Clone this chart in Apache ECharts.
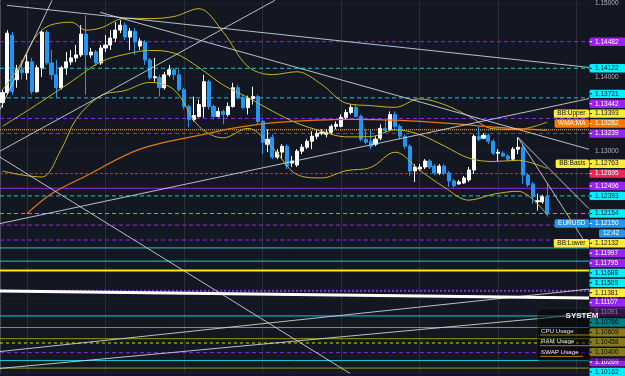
<!DOCTYPE html>
<html>
<head>
<meta charset="utf-8">
<title>EURUSD</title>
<script src="https://cdn.jsdelivr.net/npm/echarts@6.0.0/dist/echarts.min.js"></script>
<style>
  html, body { margin: 0; padding: 0; background: #131722; }
  #main { width: 625px; height: 376px; }
</style>
</head>
<body>
<div id="main"></div>
<script>
// price bars, oldest first: [open, close, low, high]
const candles = [
  [1.13658, 1.13792, 1.13590, 1.13832], [1.13792, 1.14598, 1.13765, 1.14639], [1.14572, 1.13805, 1.13765, 1.14612],
  [1.13967, 1.14101, 1.13859, 1.14168], [1.14101, 1.14061, 1.13967, 1.14235], [1.14061, 1.14209, 1.13967, 1.14303],
  [1.14209, 1.13805, 1.13765, 1.14262], [1.13805, 1.14128, 1.13792, 1.14168], [1.14128, 1.14612, 1.14007, 1.14639],
  [1.14612, 1.14195, 1.14168, 1.14639], [1.14195, 1.14034, 1.13967, 1.14370], [1.14034, 1.13859, 1.13725, 1.14235],
  [1.13859, 1.14128, 1.13832, 1.14155], [1.14128, 1.14209, 1.14034, 1.14343], [1.14209, 1.14262, 1.14168, 1.14370],
  [1.14262, 1.14303, 1.14209, 1.14437], [1.14303, 1.14585, 1.14276, 1.14706], [1.14585, 1.14303, 1.13765, 1.14840],
  [1.14303, 1.14343, 1.14262, 1.14397], [1.14343, 1.14195, 1.14155, 1.14370], [1.14195, 1.14397, 1.14168, 1.14437],
  [1.14397, 1.14437, 1.14343, 1.14572], [1.14437, 1.14531, 1.14370, 1.14639], [1.14531, 1.14639, 1.14477, 1.14746],
  [1.14639, 1.14706, 1.14598, 1.14773], [1.14706, 1.14545, 1.14504, 1.14746], [1.14545, 1.14625, 1.14370, 1.14666],
  [1.14625, 1.14477, 1.14303, 1.14666], [1.14423, 1.14491, 1.14370, 1.14531], [1.14477, 1.14235, 1.14168, 1.14504],
  [1.14235, 1.13994, 1.13967, 1.14262], [1.13994, 1.14007, 1.13940, 1.14262], [1.13994, 1.13859, 1.13738, 1.14034],
  [1.13859, 1.14034, 1.13832, 1.14074], [1.14034, 1.14101, 1.14007, 1.14168], [1.14101, 1.14034, 1.13967, 1.14128],
  [1.14034, 1.13832, 1.13805, 1.14101], [1.13832, 1.13604, 1.13564, 1.13859], [1.13604, 1.13429, 1.13322, 1.13631],
  [1.13429, 1.13483, 1.13402, 1.13738], [1.13469, 1.13631, 1.13456, 1.13698], [1.13604, 1.13940, 1.13456, 1.14034],
  [1.13940, 1.13604, 1.13564, 1.13967], [1.13604, 1.13469, 1.13429, 1.13631], [1.13469, 1.13537, 1.13456, 1.13590],
  [1.13537, 1.13496, 1.13362, 1.13564], [1.13496, 1.13604, 1.13469, 1.13658], [1.13604, 1.13859, 1.13590, 1.13926],
  [1.13859, 1.13725, 1.13698, 1.13900], [1.13725, 1.13590, 1.13564, 1.13765], [1.13590, 1.13711, 1.13496, 1.13752],
  [1.13711, 1.13738, 1.13631, 1.13873], [1.13738, 1.13402, 1.13362, 1.13765], [1.13402, 1.13120, 1.12959, 1.13429],
  [1.13093, 1.13160, 1.12986, 1.13295], [1.13187, 1.12918, 1.12891, 1.13227], [1.12918, 1.12986, 1.12891, 1.13026],
  [1.12986, 1.13066, 1.12891, 1.13093], [1.13066, 1.12797, 1.12757, 1.13093], [1.12838, 1.12865, 1.12784, 1.12932],
  [1.12811, 1.12999, 1.12784, 1.13026], [1.12999, 1.13053, 1.12959, 1.13093], [1.13053, 1.13133, 1.13026, 1.13160],
  [1.13133, 1.13201, 1.13026, 1.13268], [1.13201, 1.13241, 1.13160, 1.13295], [1.13241, 1.13254, 1.13214, 1.13295],
  [1.13227, 1.13254, 1.13187, 1.13295], [1.13254, 1.13335, 1.13227, 1.13362], [1.13335, 1.13362, 1.13295, 1.13402],
  [1.13335, 1.13456, 1.13322, 1.13496], [1.13456, 1.13523, 1.13429, 1.13564], [1.13523, 1.13590, 1.13496, 1.13631],
  [1.13590, 1.13469, 1.13456, 1.13631], [1.13469, 1.13160, 1.13133, 1.13496], [1.13160, 1.13120, 1.13093, 1.13295],
  [1.13133, 1.13066, 1.13026, 1.13295], [1.13093, 1.13160, 1.13066, 1.13201], [1.13174, 1.13308, 1.13147, 1.13362],
  [1.13308, 1.13281, 1.13254, 1.13429], [1.13295, 1.13496, 1.13268, 1.13537], [1.13496, 1.13335, 1.13295, 1.13537],
  [1.13335, 1.13201, 1.13160, 1.13362], [1.13201, 1.13066, 1.13026, 1.13227], [1.13066, 1.12730, 1.12663, 1.13093],
  [1.12730, 1.12784, 1.12582, 1.12824], [1.12757, 1.12784, 1.12730, 1.12824], [1.12784, 1.12865, 1.12757, 1.12891],
  [1.12865, 1.12784, 1.12757, 1.12891], [1.12797, 1.12703, 1.12676, 1.12824], [1.12703, 1.12797, 1.12676, 1.12824],
  [1.12797, 1.12703, 1.12676, 1.12824], [1.12703, 1.12596, 1.12515, 1.12730], [1.12596, 1.12529, 1.12502, 1.12623],
  [1.12555, 1.12582, 1.12542, 1.12609], [1.12569, 1.12636, 1.12555, 1.12663], [1.12609, 1.12744, 1.12582, 1.12784],
  [1.12744, 1.13201, 1.12690, 1.13227], [1.13201, 1.13160, 1.13133, 1.13335], [1.13174, 1.13214, 1.13160, 1.13241],
  [1.13214, 1.13133, 1.13093, 1.13241], [1.13133, 1.12972, 1.12945, 1.13160], [1.12972, 1.12986, 1.12865, 1.13026],
  [1.12972, 1.12932, 1.12918, 1.12999], [1.12932, 1.12891, 1.12865, 1.12959], [1.12891, 1.13026, 1.12865, 1.13053],
  [1.13026, 1.13053, 1.12959, 1.13187], [1.13053, 1.12676, 1.12555, 1.13080], [1.12676, 1.12542, 1.12515, 1.12703],
  [1.12555, 1.12381, 1.12287, 1.12582], [1.12313, 1.12327, 1.12193, 1.12421], [1.12313, 1.12381, 1.12287, 1.12408],
  [1.12381, 1.12150, 1.12112, 1.12555]
];

// indicator lines: [bar index, price]
const bbUpper = [
  [0, 1.13832], [3, 1.14101], [8, 1.14639], [14, 1.14746], [17, 1.14639], [20, 1.14668], [25, 1.14800],
  [30, 1.14796], [35, 1.14824], [40, 1.14930], [45, 1.14609], [50, 1.14147], [55, 1.14036], [60, 1.14075],
  [65, 1.13905], [70, 1.13649], [75, 1.13616], [80, 1.13593], [85, 1.13707], [90, 1.13630], [95, 1.13475],
  [100, 1.13302], [105, 1.13294], [111, 1.13393]
];
const bbBasis = [
  [0, 1.13335], [7, 1.13630], [14, 1.13940], [20, 1.14208], [25, 1.14311], [30, 1.14363], [35, 1.14327],
  [40, 1.14134], [45, 1.13894], [50, 1.13727], [55, 1.13542], [60, 1.13379], [65, 1.13271], [70, 1.13192],
  [75, 1.13196], [80, 1.13289], [85, 1.13224], [90, 1.13070], [95, 1.12905], [100, 1.12859], [105, 1.12875],
  [111, 1.12763]
];
const bbLower = [
  [0, 1.12730], [4, 1.12676], [8, 1.12649], [12, 1.13026], [15, 1.13429], [20, 1.13749], [25, 1.13821],
  [30, 1.13930], [35, 1.13829], [40, 1.13337], [45, 1.13179], [50, 1.13308], [55, 1.13047], [60, 1.12683],
  [65, 1.12636], [70, 1.12735], [75, 1.12777], [80, 1.12985], [85, 1.12741], [90, 1.12511], [95, 1.12335],
  [100, 1.12415], [105, 1.12456], [111, 1.12132]
];
const wma = [
  [5, 1.12152], [10, 1.12421], [17, 1.12663], [28, 1.13026], [41, 1.13227], [48, 1.13321], [56, 1.13389],
  [71, 1.13429], [81, 1.13415], [91, 1.13375], [101, 1.13321], [111, 1.13282]
];

// horizontal levels across the whole chart
const levelPrices = [1.14482, 1.14122, 1.13721, 1.13442, 1.13290, 1.13239, 1.12695, 1.12496, 1.12393, 1.12154,
  1.11997, 1.11795, 1.11688, 1.11509, 1.11381, 1.11107, 1.10766, 1.10609, 1.10458, 1.10400, 1.10269, 1.10162, 1.10060];
const levelKinds = ['purpleDash', 'cyanDash', 'cyanDash', 'purpleDash', 'orangeDot', 'purpleDash', 'redDash', 'purple',
  'cyanDash', 'cyanDash', 'purpleDash', 'purpleDash', 'cyan', 'cyan', 'yellow', 'purpleDot', 'cyan', 'olive', 'olive',
  'yellowDash', 'purpleDash', 'cyan', 'olive'];
const gridPrices = [1.15, 1.14, 1.13, 1.12, 1.11, 1.10];

// drawn trend lines, each [[bar, price], [bar, price]]
const trendLines = [
  [[0, 1.13563], [10.6, 1.15042]],
  [[0, 1.12999], [56.0, 1.15042]],
  [[1.4, 1.14975], [120, 1.14134]],
  [[20.4, 1.14880], [120, 1.13024]],
  [[0, 1.12018], [120, 1.13711]],
  [[0, 1.10284], [120, 1.11130]],
  [[0, 1.10055], [120, 1.10794]],
  [[0, 1.12918], [71.3, 1.09988]],
  [[105.5, 1.13187], [120, 1.12219]],
  [[105.5, 1.13187], [120, 1.11682]]
];
const thickLine = [[0, 1.11104], [120, 1.11009]];

// price axis tags
const tagValues = [1.14482, 1.14122, 1.13721, 1.13442, 1.13393, 1.13282, 1.13239, 1.12763, 1.12695, 1.12496,
  1.12393, 1.12154, 1.12150, 1.12132, 1.11997, 1.11795, 1.11688, 1.11509, 1.11381, 1.11107, 1.11091, 1.10766,
  1.10609, 1.10458, 1.10400, 1.10269, 1.10162];
const tagNames = ['', '', '', '', 'BB:Upper', 'WMA:MA', '', 'BB:Basis', '', '', '', '', 'EURUSD', 'BB:Lower',
  '', '', '', '', '', '', '', '', '', '', '', '', ''];
const tagKinds = ['purple', 'cyan', 'cyan', 'purple', 'yellow', 'orange', 'purple', 'yellow', 'red', 'purple',
  'cyan', 'cyan', 'blue', 'yellow', 'purple', 'purple', 'cyan', 'cyan', 'yellow', 'purple', 'dark', 'cyan',
  'yellow', 'yellow', 'yellow', 'purple', 'cyan'];
const countdown = '12:42';
const axisTicks = [1.15, 1.14, 1.13, 1.12, 1.11, 1.10];
const panelRows = ['CPU Usage', 'RAM Usage', 'SWAP Usage'];

const LINE_STYLE = {
  grid: { color: '#1d212c', type: 'solid', width: 1 },
  purpleDash: { color: '#8a2be2', type: [4, 3], width: 1 },
  purpleDot: { color: '#8a2be2', type: [2, 2], width: 2 },
  purple: { color: '#8a2be2', type: 'solid', width: 1 },
  cyanDash: { color: '#1ec8d6', type: [4, 3], width: 1 },
  cyan: { color: '#1ec8d6', type: 'solid', width: 1 },
  orangeDot: { color: '#e07a10', type: [1, 1], width: 1.5 },
  redDash: { color: '#e0245a', type: [3, 2], width: 1 },
  yellow: { color: '#ffee00', type: 'solid', width: 2 },
  yellowDash: { color: '#e8d800', type: [3, 3], width: 1 },
  olive: { color: '#9e9a14', type: 'solid', width: 1 }
};
const TAG_STYLE = {
  purple: ['#9b22ef', '#ffffff'],
  cyan: ['#00f0ff', '#10141e'],
  yellow: ['#ffeb3b', '#10141e'],
  orange: ['#ff7a00', '#ffffff'],
  red: ['#f02459', '#ffffff'],
  blue: ['#2196f3', '#ffffff'],
  dark: ['#5e2a8c', '#ffffff']
};

const SLOTS = 120;
const FONT = 'Liberation Sans';
const TAG_FS = 6.5;
const TAG_H = 9.9;
const AXIS_X = 589;

const toBar = pts => pts.map(([i, p]) => [i + 0.5, p]);

const chart = echarts.init(document.getElementById('main'));

const lineSeries = (data, lineStyle, smooth, z) => ({
  type: 'line', xAxisIndex: 1, yAxisIndex: 0, data: data, showSymbol: false, symbol: 'none',
  smooth: smooth, silent: true, z: z,
  lineStyle: lineStyle
});

// a horizontal level is just a flat segment across all bar slots
const levelSeries = (p, style) => lineSeries([[0, p], [SLOTS, p]], style, false, 1);

const option = {
  backgroundColor: '#131722',
  animation: false,
  grid: { left: 0, right: 625 - AXIS_X, top: 0, bottom: 0 },
  xAxis: [
    {
      type: 'category',
      data: Array.from({ length: SLOTS }, (_, i) => i),
      boundaryGap: true,
      axisLine: { show: false },
      axisTick: { show: false },
      axisLabel: { show: false },
      splitLine: {
        show: true,
        alignWithLabel: true,
        interval: i => i >= 5 && (i - 5) % 16 === 0,
        lineStyle: { color: '#2b2f3b', width: 1 }
      }
    },
    { type: 'value', min: 0, max: SLOTS, show: false }
  ],
  yAxis: {
    type: 'value',
    position: 'right',
    min: 1.099879,
    max: 1.150417,
    axisLine: { show: true, lineStyle: { color: '#4a4d57' } },
    axisTick: { show: false },
    splitLine: { show: false },
    axisLabel: {
      customValues: axisTicks,
      formatter: v => v.toFixed(5),
      color: '#b2b5be',
      fontSize: TAG_FS,
      fontFamily: FONT,
      margin: 6,
      align: 'left'
    }
  },
  series: [
    ...gridPrices.map(p => levelSeries(p, LINE_STYLE.grid)),
    ...levelPrices.map((p, k) => levelSeries(p, LINE_STYLE[levelKinds[k]])),
    {
      type: 'candlestick',
      xAxisIndex: 0,
      yAxisIndex: 0,
      data: candles,
      barWidth: 3.6,
      z: 2,
      itemStyle: {
        color: '#ffffff', color0: '#2196f3',
        borderColor: '#ffffff', borderColor0: '#2196f3', borderWidth: 1
      }
    },
    lineSeries(toBar(bbUpper), { color: '#c9b41c', width: 1 }, 0.35, 3),
    lineSeries(toBar(bbBasis), { color: '#c9b41c', width: 1 }, 0.35, 3),
    lineSeries(toBar(bbLower), { color: '#c9b41c', width: 1 }, 0.35, 3),
    lineSeries(toBar(wma), { color: '#e8780c', width: 1.2 }, 0.35, 3),
    ...trendLines.map(seg => lineSeries(seg, { color: 'rgba(215,218,225,0.85)', width: 1 }, false, 4)),
    lineSeries(thickLine, { color: '#ffffff', width: 3 }, false, 4)
  ]
};
chart.setOption(option);

// ---- price tags on the axis, stacked so they do not overlap ----
const ctx = document.createElement('canvas').getContext('2d');
ctx.font = TAG_FS + 'px "' + FONT + '"';
const textW = t => ctx.measureText(t).width;

function layoutTags() {
  const ys = tagValues.map(v => chart.convertToPixel({ yAxisIndex: 0 }, v));
  const main = tagNames.indexOf('EURUSD');
  const pos = ys.slice();
  // tags above the last price are pushed upward
  for (let k = main - 2; k >= 0; k--) {
    pos[k] = Math.min(ys[k], pos[k + 1] - TAG_H);
  }
  // the symbol tag and everything under it are pushed downward
  for (let k = main; k < ys.length; k++) {
    const rowsAbove = (k - 1 === main) ? 2 : 1;
    pos[k] = Math.max(ys[k], pos[k - 1] + TAG_H * rowsAbove);
  }
  return pos;
}

function buildOverlay() {
  const pos = layoutTags();
  const g = [];
  const bh = 8.4;
  const font = TAG_FS + 'px "' + FONT + '"';
  tagValues.forEach((v, k) => {
    const [bg, fg] = TAG_STYLE[tagKinds[k]];
    const y = pos[k];
    g.push({ type: 'rect', z: 100, shape: { x: AXIS_X + 0.5, y: y - bh / 2, width: 625 - AXIS_X, height: bh, r: 1.5 }, style: { fill: bg } });
    g.push({ type: 'line', z: 101, shape: { x1: AXIS_X + 0.5, y1: y, x2: AXIS_X + 3, y2: y }, style: { stroke: fg, lineWidth: 1 } });
    g.push({ type: 'text', z: 101, x: AXIS_X + 6, y: y, style: { text: v.toFixed(5), fill: fg, font: font, verticalAlign: 'middle' } });
    if (tagNames[k]) {
      const w = textW(tagNames[k]) + 7;
      g.push({ type: 'rect', z: 100, shape: { x: AXIS_X - w, y: y - bh / 2, width: w, height: bh, r: 1.5 }, style: { fill: bg } });
      g.push({ type: 'text', z: 101, x: AXIS_X - w + 3.5, y: y, style: { text: tagNames[k], fill: fg, font: font, verticalAlign: 'middle' } });
    }
    if (tagNames[k] === 'EURUSD') {
      const y2 = y + TAG_H;
      g.push({ type: 'rect', z: 100, shape: { x: AXIS_X + 10, y: y2 - bh / 2, width: 625 - AXIS_X - 10, height: bh, r: 1.5 }, style: { fill: bg } });
      g.push({ type: 'text', z: 101, x: AXIS_X + 14, y: y2, style: { text: countdown, fill: fg, font: font, verticalAlign: 'middle' } });
    }
  });

  // SYSTEM monitor panel laid over the bottom right corner
  const px = 537, py = 309;
  g.push({ type: 'rect', z: 110, shape: { x: px, y: py, width: 625 - px + 4, height: 52, r: 3 }, style: { fill: 'rgba(0,0,0,0.48)', stroke: 'rgba(255,255,255,0.06)' } });
  g.push({ type: 'text', z: 111, x: 582, y: 316, style: { text: 'SYSTEM', fill: '#f0f0f0', font: 'bold 8px "' + FONT + '"', align: 'center', verticalAlign: 'middle' } });
  panelRows.forEach((t, r) => {
    const ry = 331 + r * 10.7;
    g.push({ type: 'text', z: 111, x: 541, y: ry, style: { text: t, fill: '#e4e4e4', font: '6.2px "' + FONT + '"', verticalAlign: 'middle' } });
    g.push({ type: 'line', z: 111, shape: { x1: 540, y1: ry + 4, x2: r === 2 ? 583 : 590, y2: ry + 4 }, style: { stroke: '#b07a10', lineWidth: 1 } });
  });
  chart.setOption({ graphic: g });
}
buildOverlay();
</script>
</body>
</html>
